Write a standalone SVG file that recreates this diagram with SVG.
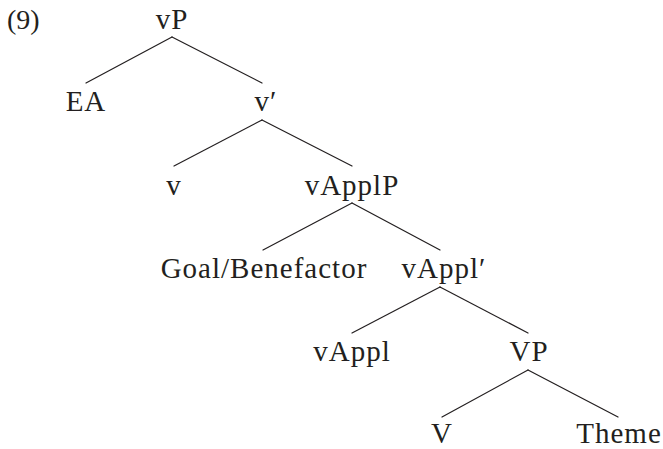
<svg xmlns="http://www.w3.org/2000/svg" width="663" height="449" viewBox="0 0 663 449">
  <style>
    .lbl { font-family: "Liberation Serif", "Times New Roman", serif; font-size: 29px; letter-spacing: 1px; fill: #231f20; text-anchor: middle; }
    .num { text-anchor: start; letter-spacing: 0; font-size: 28px; }
    .edge { stroke: #231f20; stroke-width: 1.2; fill: none; stroke-linecap: round; }
  </style>
  <rect width="663" height="449" fill="#ffffff"/>
  <text class="lbl num" x="7" y="29">(9)</text>

  <g id="edges">
    <line class="edge" x1="172" y1="37" x2="86" y2="83"/>
    <line class="edge" x1="172" y1="37" x2="262" y2="83"/>
    <line class="edge" x1="262" y1="120" x2="174" y2="166"/>
    <line class="edge" x1="262" y1="120" x2="352" y2="166"/>
    <line class="edge" x1="352" y1="203" x2="263" y2="250"/>
    <line class="edge" x1="352" y1="203" x2="440" y2="250"/>
    <line class="edge" x1="440" y1="287" x2="352" y2="333"/>
    <line class="edge" x1="440" y1="287" x2="528" y2="333"/>
    <line class="edge" x1="528" y1="370" x2="442" y2="417"/>
    <line class="edge" x1="528" y1="370" x2="618" y2="417"/>
  </g>

  <g id="vP"><text class="lbl" x="172" y="29">vP</text></g>
  <g id="EA"><text class="lbl" x="86" y="111">EA</text></g>
  <g id="vbar"><text class="lbl" x="266" y="111">v′</text></g>
  <g id="v"><text class="lbl" x="174" y="195">v</text></g>
  <g id="vApplP"><text class="lbl" x="352" y="195">vApplP</text></g>
  <g id="goal"><text class="lbl" x="264" y="278">Goal/Benefactor</text></g>
  <g id="vApplbar"><text class="lbl" x="444" y="278">vAppl′</text></g>
  <g id="vAppl"><text class="lbl" x="352" y="361">vAppl</text></g>
  <g id="VP"><text class="lbl" x="529" y="361">VP</text></g>
  <g id="V"><text class="lbl" x="442" y="443">V</text></g>
  <g id="theme"><text class="lbl" x="619" y="443">Theme</text></g>
</svg>
